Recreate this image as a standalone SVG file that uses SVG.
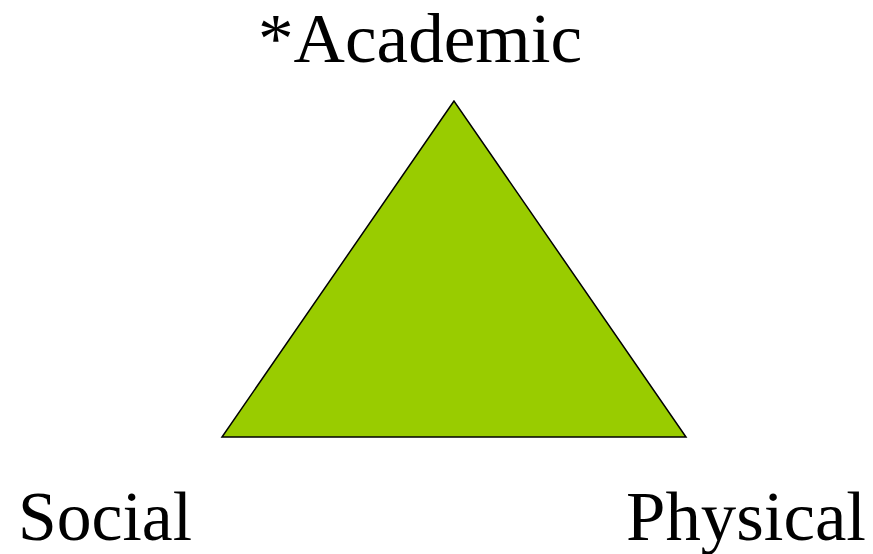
<svg xmlns="http://www.w3.org/2000/svg" width="873" height="554" viewBox="0 0 873 554">
<style>
.lbl{font-family:"Liberation Serif","Times New Roman",serif;font-size:70px;fill:#000}
</style>
<rect width="873" height="554" fill="#fff"/>
<g id="triangle">
<polygon points="454,101 222,437 686,437" fill="#99CC00" stroke="#000" stroke-width="1.5"/>
</g>
<g id="academic"><text class="lbl" x="258" y="62" textLength="324" lengthAdjust="spacingAndGlyphs">*Academic</text></g>
<g id="social"><text class="lbl" x="18" y="540" textLength="174" lengthAdjust="spacingAndGlyphs">Social</text></g>
<g id="physical"><text class="lbl" x="626" y="540" textLength="240" lengthAdjust="spacingAndGlyphs">Physical</text></g>
</svg>
